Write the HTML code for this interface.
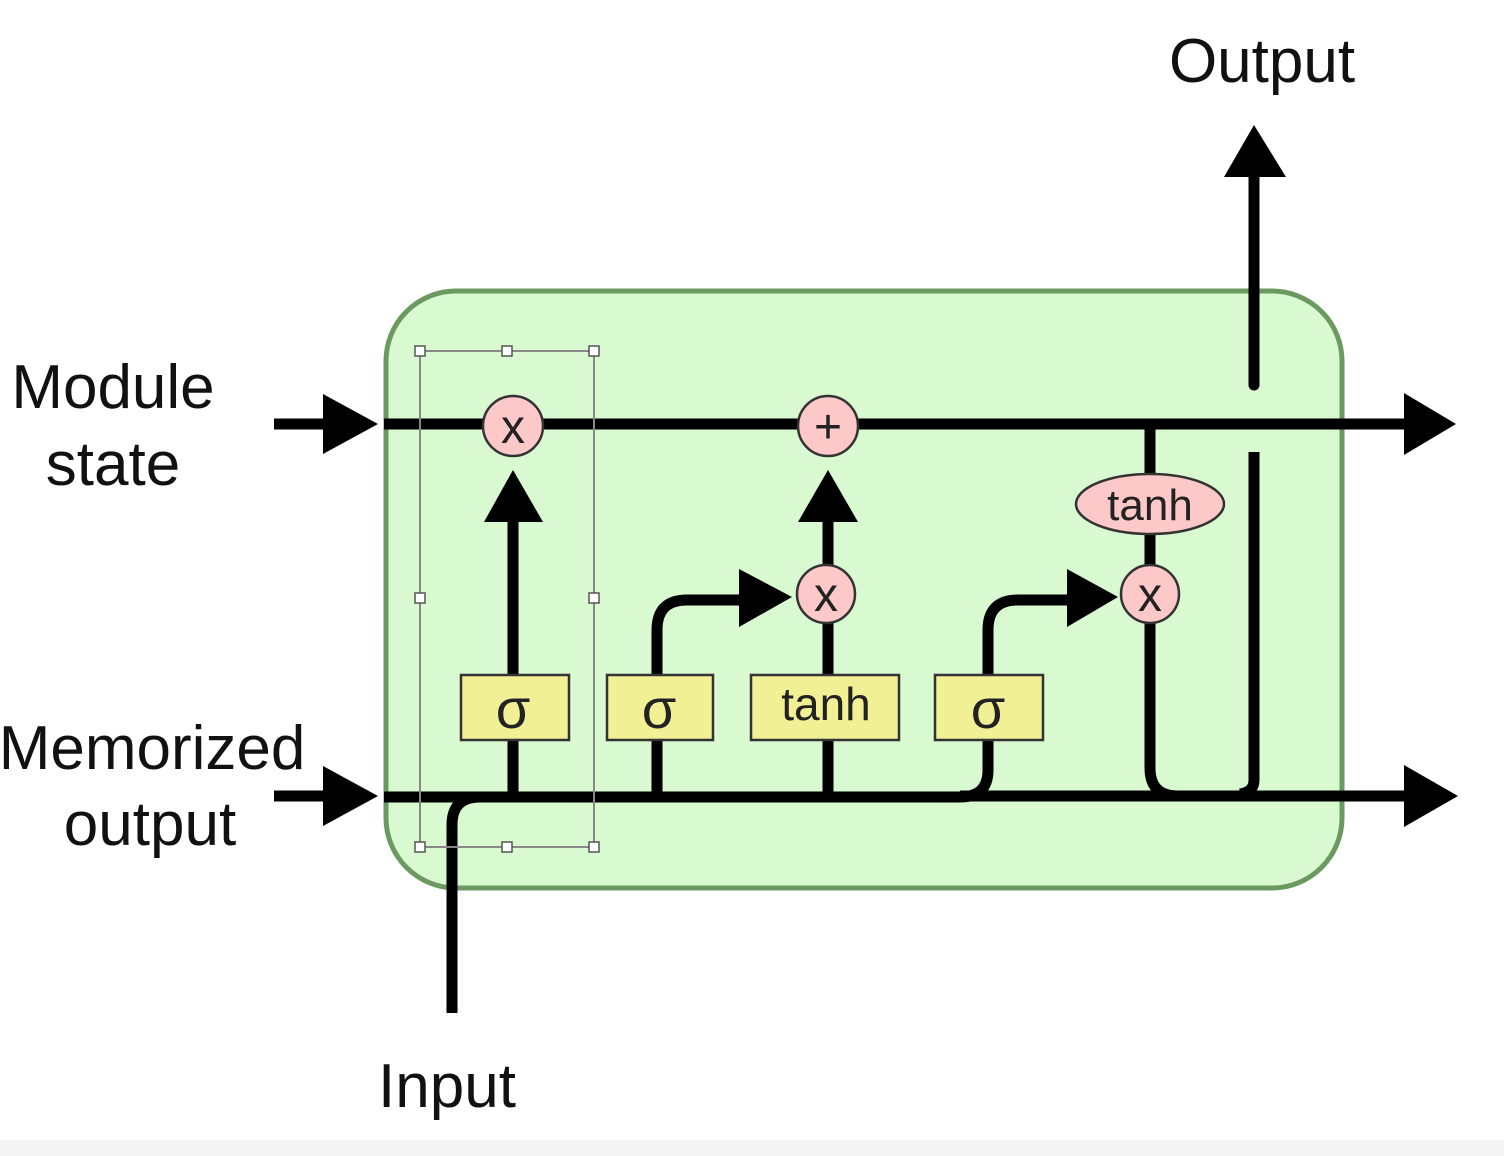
<!DOCTYPE html>
<html><head><style>body{margin:0;background:#fff}svg{display:block}</style></head><body>
<svg width="1504" height="1156" viewBox="0 0 1504 1156" xmlns="http://www.w3.org/2000/svg" font-family="Liberation Sans, sans-serif">
<rect x="0" y="1140" width="1504" height="16" fill="#f4f4f4"/>
<rect x="386" y="291" width="956" height="597" rx="70" fill="#d9f9d0" stroke="#6a9a5f" stroke-width="5"/>
<g stroke="#000" stroke-width="11" fill="none" stroke-linecap="butt">
<line x1="274" y1="424" x2="330" y2="424"/>
<line x1="274" y1="796" x2="330" y2="796"/>
<line x1="384" y1="424" x2="1410" y2="424"/>
<path d="M384 797 H960 Q988 797 988 770 V740"/>
<line x1="960" y1="796" x2="1410" y2="796"/>
<path d="M452 1013 V825 Q452 797 480 797"/>
<line x1="513" y1="520" x2="513" y2="796"/>
<line x1="828" y1="520" x2="828" y2="796"/>
<line x1="657" y1="796" x2="657" y2="740"/>
<path d="M657 676 V630 Q657 600 687 600 H745"/>
<path d="M988 676 V630 Q988 600 1018 600 H1072"/>
<line x1="1150" y1="424" x2="1150" y2="594"/>
<path d="M1150 594 V768 Q1150 796 1178 796 H1254"/>
<path d="M1254 452 V780 Q1254 792 1240 794"/>
<path d="M1254 385 V170" stroke-linecap="round"/>
</g>
<g fill="#000">
<polygon points="323,394 378,424 323,454"/>
<polygon points="323,766 378,796 323,826"/>
<polygon points="1404,393 1456,424 1404,455"/>
<polygon points="1404,765 1458,796 1404,827"/>
<polygon points="484,522 513,470 543,522"/>
<polygon points="798,522 828,470 858,522"/>
<polygon points="739,569 792,597 739,627"/>
<polygon points="1067,569 1118,597 1067,627"/>
<polygon points="1224,177 1254,125 1286,177"/>
</g>
<g fill="#fcc8c8" stroke="#333" stroke-width="2.5">
<circle cx="513" cy="426" r="30"/>
<circle cx="828" cy="426" r="30"/>
<circle cx="826" cy="594" r="29"/>
<circle cx="1150" cy="594" r="29"/>
<ellipse cx="1150" cy="504" rx="74" ry="30"/>
</g>
<g fill="#f2f095" stroke="#333" stroke-width="2.5">
<rect x="461" y="675" width="108" height="65"/>
<rect x="607" y="675" width="106" height="65"/>
<rect x="751" y="675" width="148" height="65"/>
<rect x="935" y="675" width="108" height="65"/>
</g>
<g fill="#222" text-anchor="middle">
<text x="513" y="443" font-size="48">x</text>
<text x="828" y="443" font-size="48">+</text>
<text x="826" y="611" font-size="48">x</text>
<text x="1150" y="611" font-size="48">x</text>
<text x="1150" y="520" font-size="44">tanh</text>
<text x="513" y="728" font-size="56">σ</text>
<text x="659" y="728" font-size="56">σ</text>
<text x="826" y="720" font-size="46">tanh</text>
<text x="988" y="728" font-size="56">σ</text>
</g>
<g fill="none" stroke="#888" stroke-width="2">
<rect x="420" y="351" width="174" height="496"/>
</g>
<g fill="#fff" stroke="#555" stroke-width="1.5">
<rect x="415" y="346" width="10" height="10"/><rect x="502" y="346" width="10" height="10"/><rect x="589" y="346" width="10" height="10"/>
<rect x="415" y="593" width="10" height="10"/><rect x="589" y="593" width="10" height="10"/>
<rect x="415" y="842" width="10" height="10"/><rect x="502" y="842" width="10" height="10"/><rect x="589" y="842" width="10" height="10"/>
</g>
<g fill="#111" font-size="62" text-anchor="middle">
<text x="1262" y="82">Output</text>
<text x="113" y="408">Module</text>
<text x="113" y="485">state</text>
<text x="152" y="769">Memorized</text>
<text x="150" y="845">output</text>
<text x="447" y="1107">Input</text>
</g>
</svg>
</body></html>
